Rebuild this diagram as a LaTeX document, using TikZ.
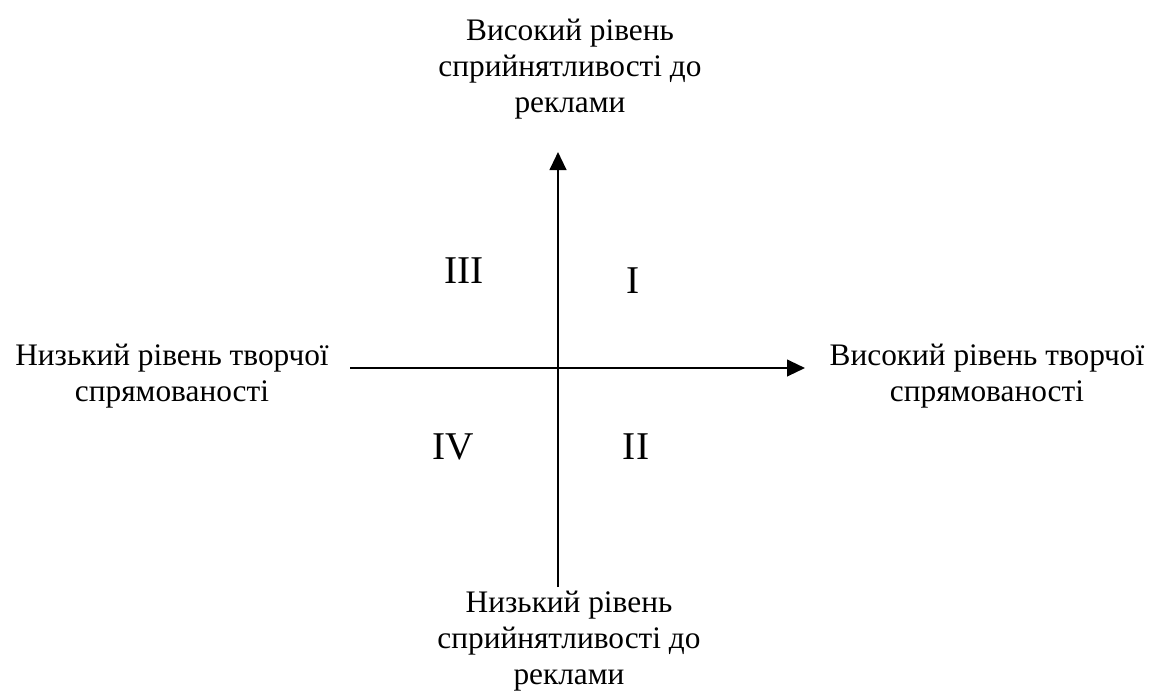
\documentclass[tikz,border=0pt]{standalone}
\usepackage{fontspec}
\setmainfont{Liberation Serif}
\usetikzlibrary{arrows.meta}

\begin{document}
\begin{tikzpicture}[x=0.75pt, y=-0.75pt,
  axisline/.style={line width=1.6pt, -{Triangle[length=13.5pt, width=12.5pt]}},
  axistext/.style={align=center, font=\fontsize{23.5}{27}\selectfont},
  quarter/.style={font=\fontsize{29.5}{34}\selectfont}]

  \useasboundingbox (0,0) rectangle (1155,690);

  % --- 1. Осі ---
  \coordinate (west) at (350,368);
  \coordinate (east) at (805,368);
  \coordinate (south) at (558,587);
  \coordinate (north) at (558,152);
  \draw[axisline] (west) -- (east);
  \draw[axisline] (south) -- (north);

  % --- 2. Підписи осей ---
  \node[axistext] (hireceptive) at (570,69) {Високий рівень\\сприйнятливості до\\реклами};
  \node[axistext] (loreceptive) at (569,641) {Низький рівень\\сприйнятливості до\\реклами};
  \node[axistext] (locreative) at (172,376) {Низький рівень творчої\\спрямованості};
  \node[axistext] (hicreative) at (987,376) {Високий рівень творчої\\спрямованості};

  % --- 3. Квадранти ---
  \node[quarter] (q1) at (633,281) {I};
  \node[quarter] (q2) at (636,447) {II};
  \node[quarter] (q3) at (464,271) {III};
  \node[quarter] (q4) at (453,447) {IV};

\end{tikzpicture}
\end{document}
